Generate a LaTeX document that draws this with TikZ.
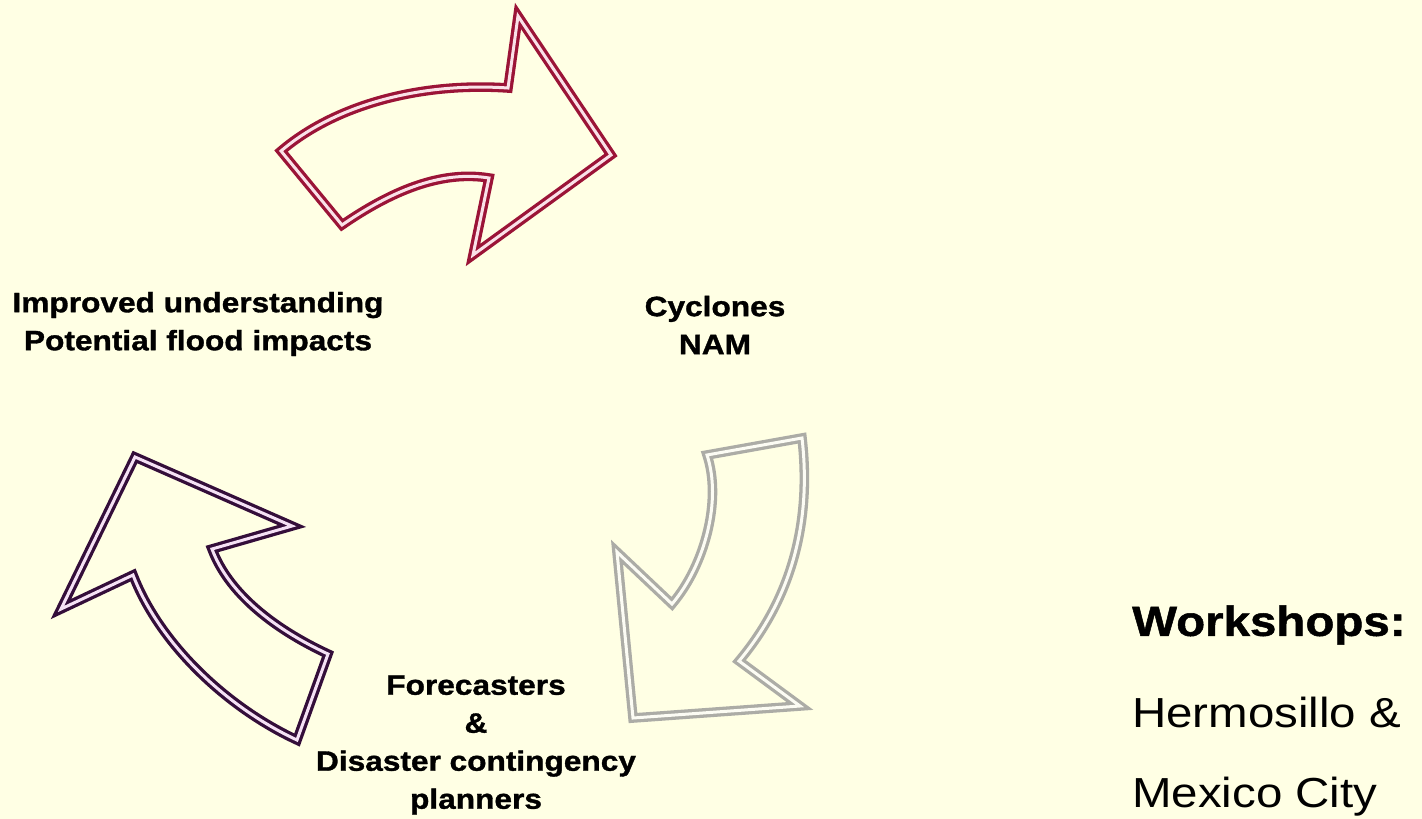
\documentclass[tikz,border=0pt]{standalone}
\usepackage{fontspec}
\setmainfont{Liberation Sans}
\newfontfamily\labfont[FakeStretch=1.13]{Liberation Sans}
\newfontfamily\labboldfont[FakeStretch=1.13,FakeBold=1.2]{Liberation Sans Bold}
\definecolor{bgc}{RGB}{255,255,228}
\definecolor{redc}{RGB}{155,20,55}
\definecolor{redin}{RGB}{250,225,232}
\definecolor{greyc}{RGB}{172,172,166}
\definecolor{greyin}{RGB}{252,252,244}
\definecolor{purc}{RGB}{52,14,58}
\definecolor{purin}{RGB}{245,225,245}
\tikzset{
  arrowshape/.style={line width=3.3pt, double distance=3pt, line join=miter, miter limit=10},
  lab/.style={font=\labboldfont\fontsize{28}{38}\selectfont, align=center, inner sep=0pt},
  bigbold/.style={font=\labboldfont\fontsize{42}{50}\selectfont, anchor=west, inner sep=0pt},
  bignorm/.style={font=\labfont\fontsize{42}{50}\selectfont, anchor=west, inner sep=0pt}
}
\begin{document}
\begin{tikzpicture}[x=1pt,y=-1pt]
\fill[bgc] (0,0) rectangle (1422,819);
\useasboundingbox (0,0) rectangle (1422,819);
% red arrow (top)
\draw[arrowshape, draw=redc, double=redin]
  (281,151) .. controls (335,105) and (420,82) .. (508,88) -- (518,16) -- (611,155)
  -- (473,255) -- (489,178) .. controls (440,170) and (390,192) .. (342,225) -- cycle;
% grey arrow (right)
\draw[arrowshape, draw=greyc, double=greyin]
  (707,455) -- (802,438) .. controls (812,525) and (790,600) .. (739,661) -- (800,706)
  -- (633,718) -- (617,552) -- (672,604) .. controls (705,565) and (722,500) .. (707,455) -- cycle;
% purple arrow (left)
\draw[arrowshape, draw=purc, double=purin]
  (135,457) -- (292,526) -- (212,549) .. controls (228,592) and (272,628) .. (328,654)
  -- (297,740) .. controls (228,708) and (160,645) .. (133,575) -- (61,609) -- cycle;
% labels
\node[lab] (impr) at (198,324) {Improved understanding\\Potential flood impacts};
\node[lab] (cycl) at (715,325) {Cyclones\\NAM};
\node[lab] (fore) at (476,745) {Forecasters\\\&\\Disaster contingency\\planners};
\node[bigbold] (work) at (1132,625) {Workshops:};
\node[bignorm] (herm) at (1132,712) {Hermosillo \&};
\node[bignorm] (mex) at (1132,797) {Mexico City};
\end{tikzpicture}
\end{document}
